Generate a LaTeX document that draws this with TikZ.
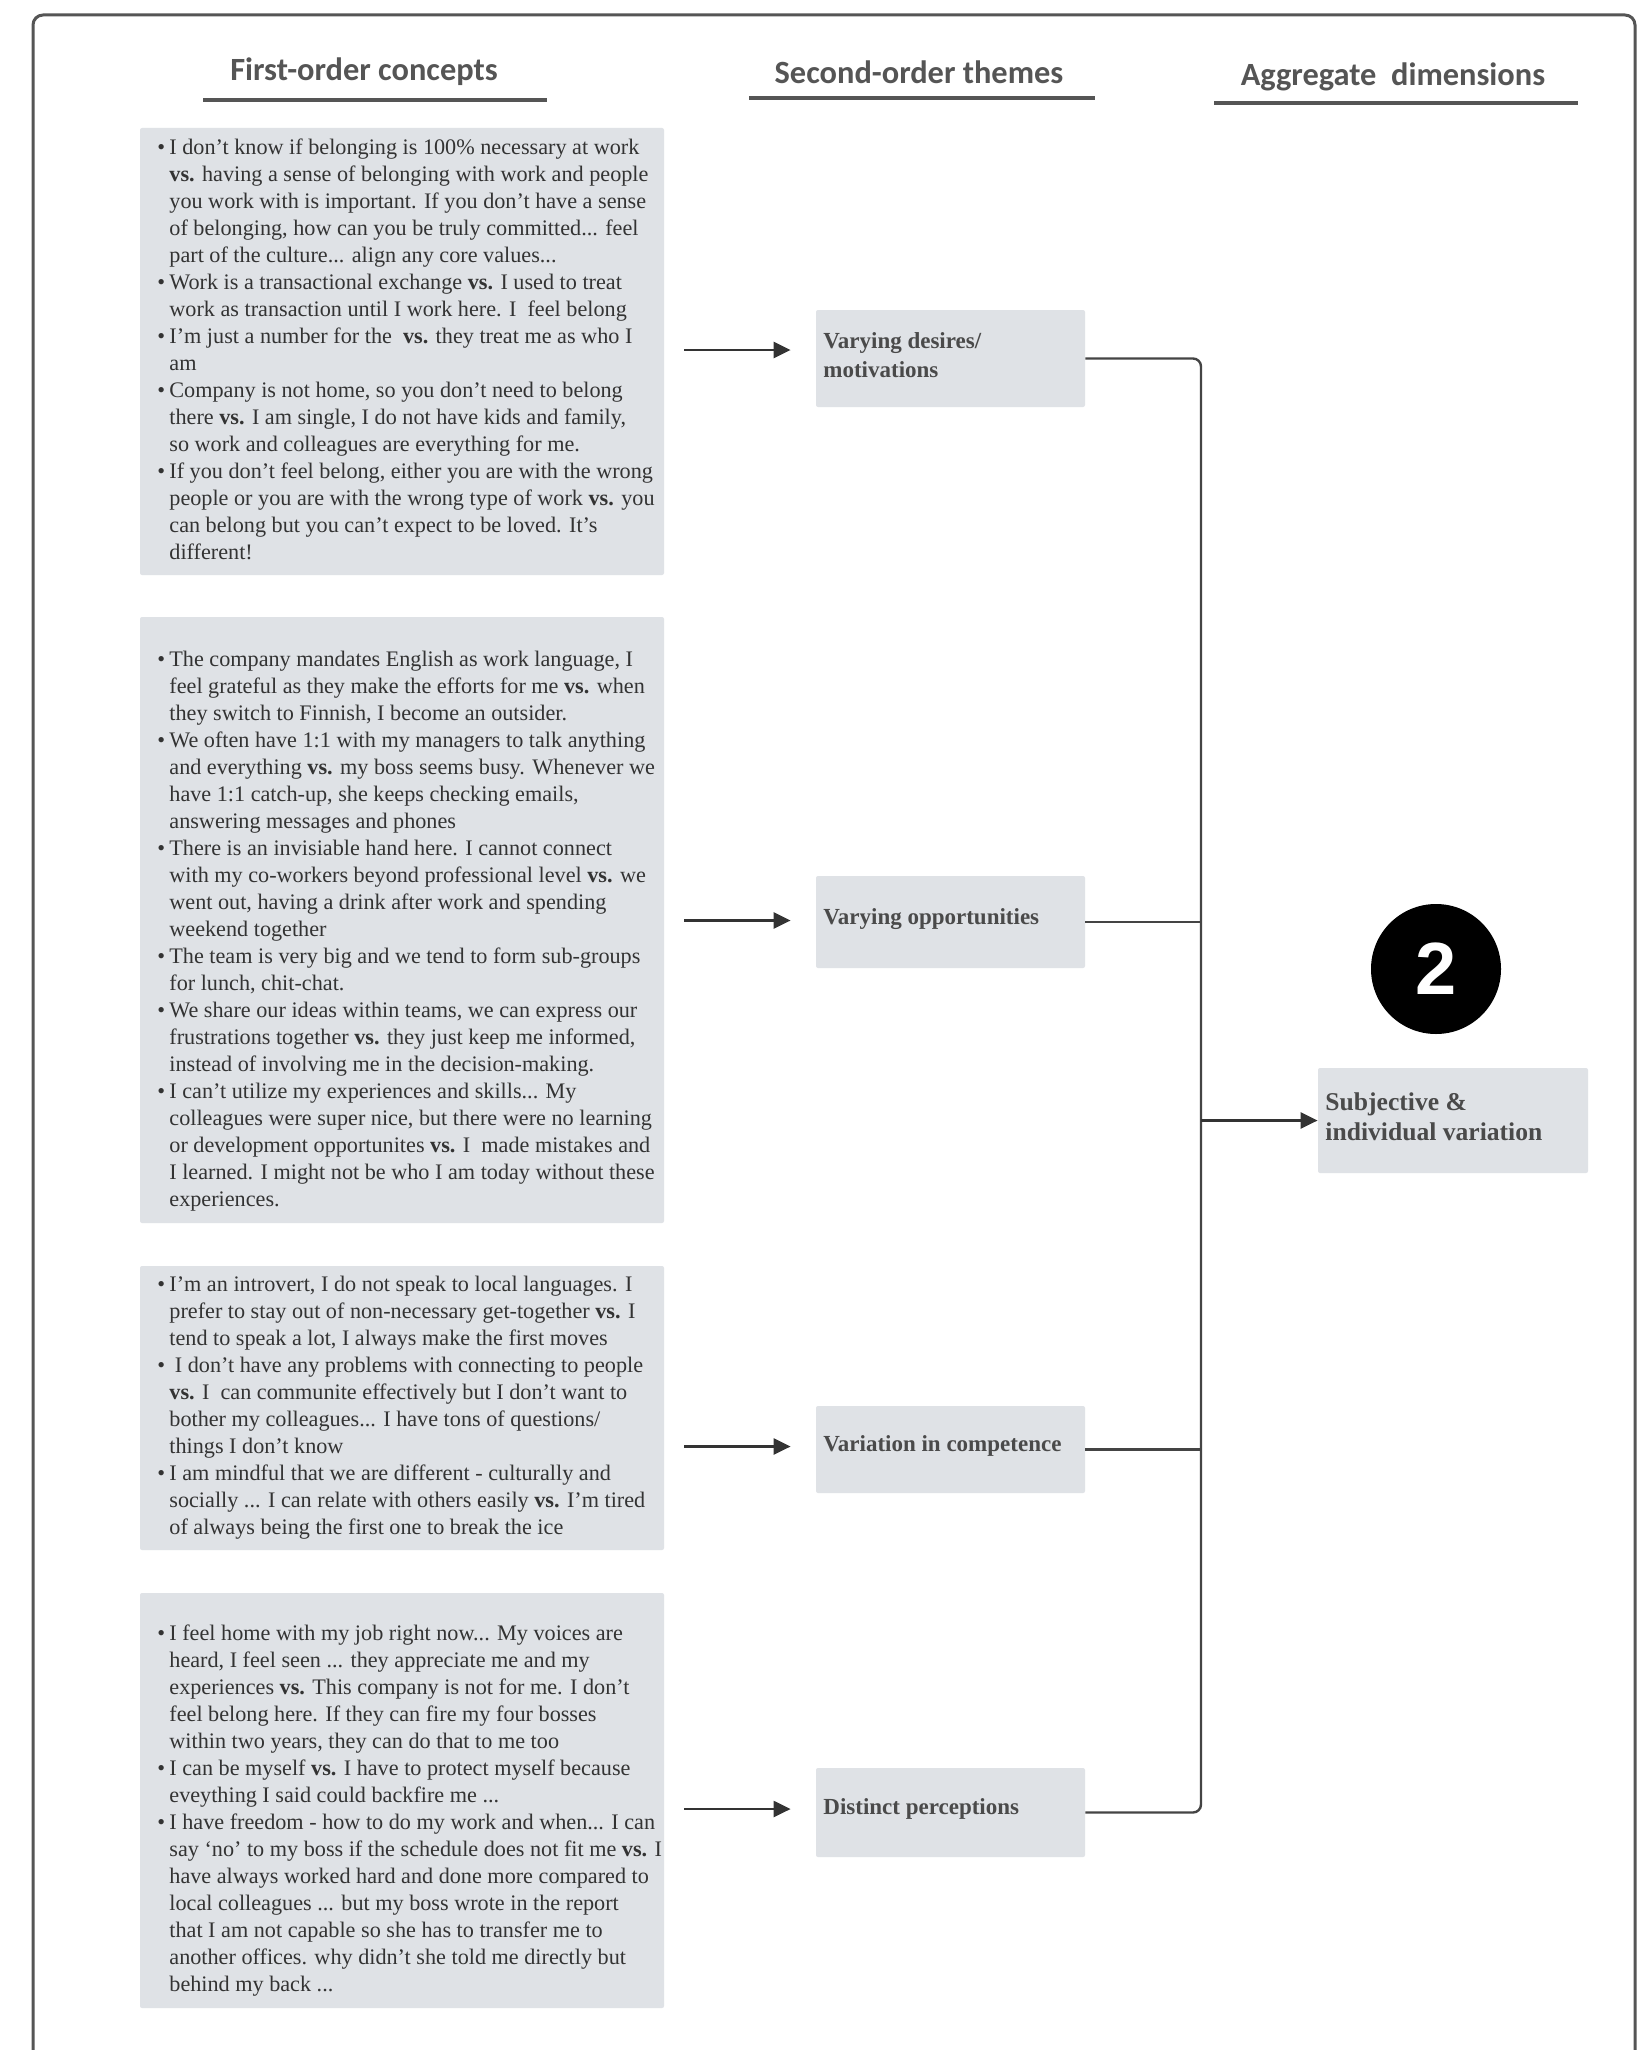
\documentclass[tikz,border=0pt]{standalone}
\usepackage{fontspec}
\setmainfont{Liberation Serif}
\newfontfamily\headfont{Carlito}
\newfontfamily\numfont{Liberation Sans}
\usetikzlibrary{arrows.meta,calc}

\definecolor{boxfill}{HTML}{DFE2E6}
\definecolor{ink}{HTML}{333333}
\definecolor{themeink}{HTML}{4A4A4A}
\definecolor{rulegray}{HTML}{555555}
\definecolor{wiregray}{HTML}{444444}

% bullet item start and continuation indent
\newcommand{\Bp}{\makebox[6pt][l]{\textbullet}}
\newcommand{\Cp}{\hspace*{6pt}}
\newcommand{\Vs}{\textbf{vs.}}

\tikzset{
  head/.style={font=\headfont\bfseries\fontsize{16.2}{19}\selectfont, text=rulegray, inner sep=0pt},
  headrule/.style={draw=rulegray, line width=2pt},
  fobox/.style={fill=boxfill, inner sep=0pt, minimum width=262pt, rounded corners=1pt},
  fotext/.style={font=\fontsize{11.1}{13.5}\selectfont, text=ink, align=left, inner sep=0pt, anchor=west},
  thbox/.style={fill=boxfill, inner sep=0pt, minimum width=134.5pt, rounded corners=1pt},
  thtext/.style={font=\bfseries\fontsize{11.5}{14.5}\selectfont, text=themeink, align=left, inner sep=0pt, anchor=west},
  aggtext/.style={font=\bfseries\fontsize{12.8}{15}\selectfont, text=themeink, align=left, inner sep=0pt, anchor=west},
  arrow/.style={draw=ink, line width=1.2pt, -{Triangle[length=8.5pt,width=8pt]}},
  wire/.style={draw=wiregray, line width=1.2pt},
}

\begin{document}
\begin{tikzpicture}[x=0.5pt,y=-0.5pt]
\useasboundingbox (0,0) rectangle (1649,2050);
\fill[white] (0,0) rectangle (1649,2050);

% outer frame, open at the bottom
\draw[rulegray, line width=1.5pt, rounded corners=5pt] (33,2050) -- (33,15) -- (1635,15) -- (1635,2050);

% column headings
\node[head] (h1) at (364,72) {First-order concepts};
\node[head] (h2) at (919,72) {Second-order themes};
\node[head] (h3) at (1393,77) {Aggregate\ \ dimensions};
\draw[headrule] (203,100.5) -- (547,100.5);
\draw[headrule] (749,98) -- (1095,98);
\draw[headrule] (1214,103) -- (1578,103);

% first-order concept boxes
\node[fobox, minimum height=223.5pt] (b1) at (402,351.5) {};
\node[fotext] (b1t) at (157,349) {%
\Bp I don't know if belonging is 100\% necessary at work\\
\Cp \Vs{} having a sense of belonging with work and people\\
\Cp you work with is important. If you don't have a sense\\
\Cp of belonging, how can you be truly committed... feel\\
\Cp part of the culture... align any core values...\\
\Bp Work is a transactional exchange \Vs{} I used to treat\\
\Cp work as transaction until I work here. I\ \ feel belong\\
\Bp I'm just a number for the\ \ \Vs{} they treat me as who I\\
\Cp am\\
\Bp Company is not home, so you don't need to belong\\
\Cp there \Vs{} I am single, I do not have kids and family,\\
\Cp so work and colleagues are everything for me.\\
\Bp If you don't feel belong, either you are with the wrong\\
\Cp people or you are with the wrong type of work \Vs{} you\\
\Cp can belong but you can't expect to be loved. It's\\
\Cp different!};

\node[fobox, minimum height=303pt] (b2) at (402,920) {};
\node[fotext] (b2t) at (157,931.5) {%
\Bp The company mandates English as work language, I\\
\Cp feel grateful as they make the efforts for me \Vs{} when\\
\Cp they switch to Finnish, I become an outsider.\\
\Bp We often have 1:1 with my managers to talk anything\\
\Cp and everything \Vs{} my boss seems busy. Whenever we\\
\Cp have 1:1 catch-up, she keeps checking emails,\\
\Cp answering messages and phones\\
\Bp There is an invisiable hand here. I cannot connect\\
\Cp with my co-workers beyond professional level \Vs{} we\\
\Cp went out, having a drink after work and spending\\
\Cp weekend together\\
\Bp The team is very big and we tend to form sub-groups\\
\Cp for lunch, chit-chat.\\
\Bp We share our ideas within teams, we can express our\\
\Cp frustrations together \Vs{} they just keep me informed,\\
\Cp instead of involving me in the decision-making.\\
\Bp I can't utilize my experiences and skills... My\\
\Cp colleagues were super nice, but there were no learning\\
\Cp or development opportunites \Vs{} I\ \ made mistakes and\\
\Cp I learned. I might not be who I am today without these\\
\Cp experiences.};

\node[fobox, minimum height=142pt] (b3) at (402,1408) {};
\node[fotext] (b3t) at (157,1407.5) {%
\Bp I'm an introvert, I do not speak to local languages. I\\
\Cp prefer to stay out of non-necessary get-together \Vs{} I\\
\Cp tend to speak a lot, I always make the first moves\\
\Bp\ I don't have any problems with connecting to people\\
\Cp \Vs{} I\ \ can communite effectively but I don't want to\\
\Cp bother my colleagues... I have tons of questions/\\
\Cp things I don't know\\
\Bp I am mindful that we are different - culturally and\\
\Cp socially ... I can relate with others easily \Vs{} I'm tired\\
\Cp of always being the first one to break the ice};

\node[fobox, minimum height=207.5pt] (b4) at (402,1800.5) {};
\node[fotext] (b4t) at (157,1810.5) {%
\Bp I feel home with my job right now... My voices are\\
\Cp heard, I feel seen ... they appreciate me and my\\
\Cp experiences \Vs{} This company is not for me. I don't\\
\Cp feel belong here. If they can fire my four bosses\\
\Cp within two years, they can do that to me too\\
\Bp I can be myself \Vs{} I have to protect myself because\\
\Cp eveything I said could backfire me ...\\
\Bp I have freedom - how to do my work and when... I can\\
\Cp say `no' to my boss if the schedule does not fit me \Vs{} I\\
\Cp have always worked hard and done more compared to\\
\Cp local colleagues ... but my boss wrote in the report\\
\Cp that I am not capable so she has to transfer me to\\
\Cp another offices. why didn't she told me directly but\\
\Cp behind my back ...};

% second-order theme boxes
\node[thbox, minimum height=48.5pt] (t1) at (950.5,358.5) {};
\node[thtext] (t1t) at (823,355.5) {Varying desires/\\motivations};
\node[thbox, minimum height=46pt] (t2) at (950.5,922) {};
\node[thtext] (t2t) at (823,919) {Varying opportunities};
\node[thbox, minimum height=43.5pt] (t3) at (950.5,1449.5) {};
\node[thtext] (t3t) at (823,1446) {Variation in competence};
\node[thbox, minimum height=44.5pt] (t4) at (950.5,1812.5) {};
\node[thtext] (t4t) at (823,1809) {Distinct perceptions};

% aggregate dimension
\node[thbox, minimum width=135pt, minimum height=52.5pt] (agg) at (1453,1120.5) {};
\node[aggtext] (aggt) at (1325,1117) {Subjective \&\\individual variation};

% numbered badge
\node[circle, fill=black, minimum size=65pt, inner sep=0pt, text=white,
      font=\numfont\bfseries\fontsize{37}{37}\selectfont] (badge) at (1436,969) {2};

% arrows from concepts to themes
\draw[arrow] ($(b1.east |- t1.west)+(20,-8.5)$) -- ($(t1.west)+(-25,-8.5)$);
\draw[arrow] ($(b2.east |- t2.west)+(20,-1.5)$) -- ($(t2.west)+(-25,-1.5)$);
\draw[arrow] ($(b3.east |- t3.west)+(20,-3)$) -- ($(t3.west)+(-25,-3)$);
\draw[arrow] ($(b4.east |- t4.west)+(20,-3.5)$) -- ($(t4.west)+(-25,-3.5)$);

% bracket joining themes into the aggregate dimension
\coordinate (busx) at (1201,0);
\draw[wire, rounded corners=4pt] (t1.east) -| (busx |- t4.east) -- (t4.east);
\draw[wire] (t2.east) -- (busx |- t2.east);
\draw[wire] (t3.east) -- (busx |- t3.east);
\draw[arrow] (busx |- agg.west) -- (agg.west);
\end{tikzpicture}
\end{document}
